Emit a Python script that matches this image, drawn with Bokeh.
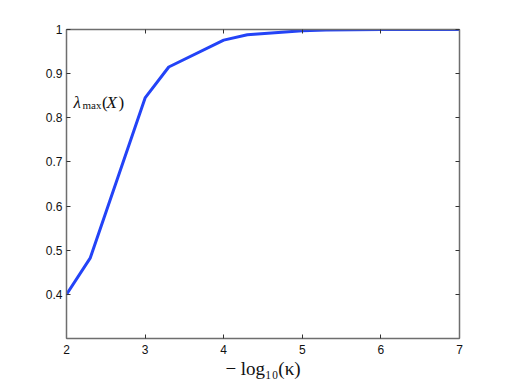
from bokeh.plotting import figure
from bokeh.models import Range1d, FixedTicker, LinearAxis, Label, CustomLabelingPolicy
from bokeh.embed import file_html
from bokeh.resources import INLINE

# data
neg_log_kappa = [2.0, 2.301, 3.0, 3.301, 4.0, 4.301, 5.0, 5.301, 6.0, 6.301, 7.0]
lambda_max = [0.400, 0.482, 0.845, 0.915, 0.976, 0.988, 0.997, 0.999, 1.0, 1.0, 1.0]

x_ticks = [2, 3, 4, 5, 6, 7]
y_ticks = [0.4, 0.5, 0.6, 0.7, 0.8, 0.9, 1.0]
y_tick_labels = ["0.4", "0.5", "0.6", "0.7", "0.8", "0.9", "1"]
x_title = "− log₁₀(κ)"

AX = "#6e6e6e"
TICK = "#333333"
SERIF = "Liberation Serif"

p = figure(frame_width=393, frame_height=309, output_backend="svg",
           toolbar_location=None, x_range=Range1d(2, 7), y_range=Range1d(0.3, 1.0),
           min_border_left=66, min_border_right=40, min_border_top=29, min_border_bottom=40,
           x_axis_location=None, y_axis_location=None)
p.outline_line_color = None
p.xgrid.visible = False
p.ygrid.visible = False
p.background_fill_color = "white"
p.border_fill_color = "white"

hide_all = CustomLabelingPolicy(code="for (const i of indices) { indices.unset(i) } return indices")

def style(ax, labels=True):
    ax.axis_line_color = AX
    ax.axis_line_width = 1.5
    ax.major_tick_line_color = TICK
    ax.major_tick_in = 4
    ax.major_tick_out = 0
    ax.minor_tick_line_color = None
    ax.major_label_text_font = "Liberation Sans"
    ax.major_label_text_font_size = "12px"
    ax.major_label_text_color = "#111111"
    if not labels:
        ax.major_label_policy = hide_all
        ax.major_label_standoff = 0

xb = LinearAxis(ticker=FixedTicker(ticks=x_ticks), axis_label=x_title)
style(xb)
xb.major_label_standoff = 6
xb.axis_label_text_font = SERIF
xb.axis_label_text_font_style = "normal"
xb.axis_label_text_font_size = "19px"
xb.axis_label_text_color = "#111111"
xb.axis_label_standoff = 1
p.add_layout(xb, "below")
xt = LinearAxis(ticker=FixedTicker(ticks=x_ticks))
style(xt, labels=False)
p.add_layout(xt, "above")

yl = LinearAxis(ticker=FixedTicker(ticks=y_ticks),
                major_label_overrides={v: s for v, s in zip(y_ticks, y_tick_labels)})
style(yl)
yl.major_label_standoff = 4
p.add_layout(yl, "left")
yr = LinearAxis(ticker=FixedTicker(ticks=y_ticks))
style(yr, labels=False)
p.add_layout(yr, "right")

p.line(neg_log_kappa, lambda_max, line_color="#2343f7", line_width=3)

# lambda_max(X) annotation
lx, ly = 2.089, 0.835
for txt, dx, dy, size, st in [("λ", 0, 0, "17px", "italic"),
                              ("max", 9, -3, "11px", "normal"),
                              ("(", 28.5, 0, "17px", "normal"),
                              ("X", 33, 0, "17px", "italic"),
                              (")", 45, 0, "17px", "normal")]:
    p.add_layout(Label(x=lx, y=ly, x_offset=dx, y_offset=dy, text=txt,
                       text_font=SERIF, text_font_size=size, text_font_style=st,
                       text_baseline="alphabetic", text_align="left", text_color="#111111"))

open("out.html", "w").write(file_html(p, INLINE))
